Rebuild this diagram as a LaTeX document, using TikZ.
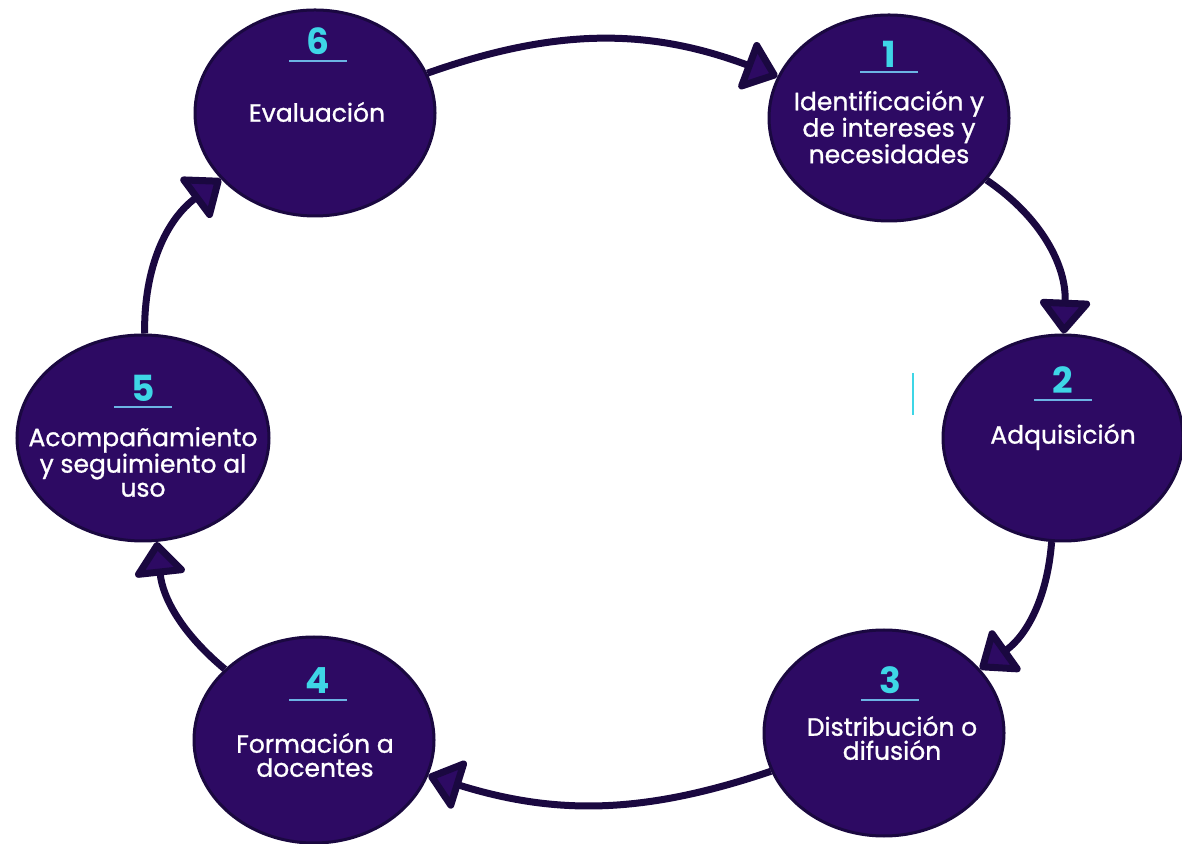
\documentclass[tikz,border=0pt]{standalone}
\usepackage{fontspec}
\setmainfont{Poppins}
\newfontfamily\labelfont[FakeBold=1]{Poppins}
\usetikzlibrary{arrows.meta,shapes.geometric}

\definecolor{stagefill}{HTML}{2D0A63}
\definecolor{stageline}{HTML}{1A0840}
\definecolor{numcolor}{HTML}{3ED6E6}
\definecolor{rulecolor}{HTML}{6CB4E4}

\tikzset{
  stage/.style={ellipse, draw=stageline, line width=3pt, fill=stagefill,
    minimum width=240pt, minimum height=206pt, inner sep=0pt},
  stagenumber/.style={text=numcolor, inner sep=0pt,
    font=\bfseries\fontsize{36}{36}\selectfont},
  stagelabel/.style={text=white, align=center, inner sep=0pt,
    font=\labelfont\fontsize{25}{24}\selectfont},
  numrule/.style={draw=rulecolor, line width=2.5pt},
  ringarrow/.style={draw=stageline, line width=7pt,
    -{Triangle[length=36pt,width=56pt,fill=stagefill,round]}},
}

\begin{document}
\begin{tikzpicture}[x=1pt,y=1pt]
    \useasboundingbox (0,0) rectangle (1182,843);
    % draw the stages
    \node[stage] (n1) at (889,725) {};
    \node[stage] (n2) at (1063,405) {};
    \node[stage] (n3) at (884,110) {};
    \node[stage] (n4) at (314,103) {};
    \node[stage, minimum width=252pt] (n5) at (143,405) {};
    \node[stage] (n6) at (315,730) {};
    % draw the numbers
    \node[stagenumber] (num1) at ([yshift=64pt]n1.center) {1};
    \node[stagenumber] (num2) at ([yshift=58pt]n2.center) {2};
    \node[stagenumber] (num3) at ([xshift=6pt,yshift=53pt]n3.center) {3};
    \node[stagenumber] (num4) at ([xshift=4pt,yshift=59pt]n4.center) {4};
    \node[stagenumber] (num5) at ([yshift=50pt]n5.center) {5};
    \node[stagenumber] (num6) at ([xshift=3pt,yshift=72pt]n6.center) {6};
    % draw the rules under the numbers
    \draw[numrule] ([xshift=-29pt,yshift=46pt]n1.center) -- ([xshift=29pt,yshift=46pt]n1.center);
    \draw[numrule] ([xshift=-29pt,yshift=38pt]n2.center) -- ([xshift=29pt,yshift=38pt]n2.center);
    \draw[numrule] ([xshift=-23pt,yshift=33pt]n3.center) -- ([xshift=35pt,yshift=33pt]n3.center);
    \draw[numrule] ([xshift=-25pt,yshift=40pt]n4.center) -- ([xshift=33pt,yshift=40pt]n4.center);
    \draw[numrule] ([xshift=-29pt,yshift=31pt]n5.center) -- ([xshift=29pt,yshift=31pt]n5.center);
    \draw[numrule] ([xshift=-26pt,yshift=52pt]n6.center) -- ([xshift=32pt,yshift=52pt]n6.center);
    % draw the labels
    \node[stagelabel] (lab1) at ([yshift=-9pt]n1.center) {Identificación y\\de intereses y\\necesidades};
    \node[stagelabel] (lab2) at ([yshift=1pt]n2.center) {Adquisición};
    \node[stagelabel] (lab3) at ([xshift=8pt,yshift=-5pt]n3.center) {Distribución o\\difusión};
    \node[stagelabel] (lab4) at ([xshift=1pt,yshift=-15pt]n4.center) {Formación a\\docentes};
    \node[stagelabel] (lab5) at ([yshift=-24pt]n5.center) {Acompañamiento\\y seguimiento al\\uso};
    \node[stagelabel] (lab6) at ([xshift=2pt,yshift=1pt]n6.center) {Evaluación};
    % draw the cycle
    \draw[ringarrow] (n6) to[bend left=20] (n1);
    \draw[ringarrow] (n1) to[bend left=29] (n2);
    \draw[ringarrow] (n2) to[bend left=25] (n3);
    \draw[ringarrow] (n3) to[bend left=18] (n4);
    \draw[ringarrow] (n4) to[bend left=22] (n5);
    \draw[ringarrow] (n5) to[bend left=27] (n6);
    % stray mark
    \draw[numcolor, line width=1.5pt] (913,470) -- (913,428);
\end{tikzpicture}
\end{document}
